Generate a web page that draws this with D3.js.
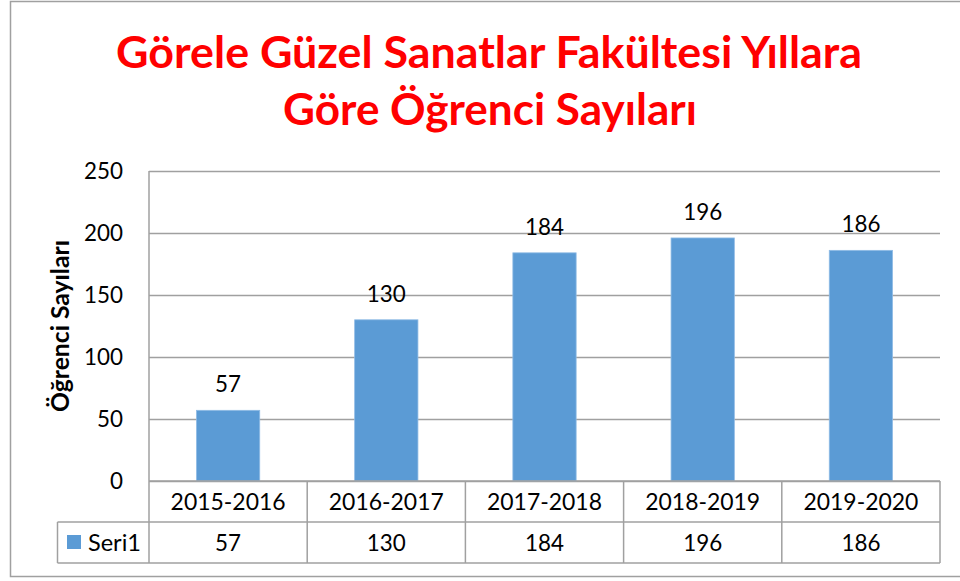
<!DOCTYPE html>
<html>
<head>
<meta charset="utf-8">
<script src="https://cdn.jsdelivr.net/npm/d3@7"></script>
<style>
  body { margin: 0; background: #fff; }
  svg { display: block; font-family: Lato, "Noto Sans", sans-serif; }
</style>
</head>
<body>
<div id="chart"></div>
<script>
"use strict";

// chart data
var categories = ["2015-2016", "2016-2017", "2017-2018", "2018-2019", "2019-2020"];
var seriesName = "Seri1";
var values = [57, 130, 184, 196, 186];
var yTicks = [0, 50, 100, 150, 200, 250];
var titleLines = ["Görele Güzel Sanatlar Fakültesi Yıllara", "Göre Öğrenci Sayıları"];
var yTitle = "Öğrenci Sayıları";

var width = 960, height = 581;
var plot = { left: 149, right: 940, top: 171, bottom: 481 };
var rowH = 41;
var legendLeft = 57.5;
var lineColor = "#a0a0a0";
var barColor = "#5b9bd5";

var svg = d3.select("#chart")
  .append("svg")
  .attr("width", width)
  .attr("height", height);

// shrink/grow a text until it is about `w` pixels wide
function fitWidth(sel, w) {
  sel.each(function() {
    var fs = parseFloat(d3.select(this).attr("font-size"));
    var cur = this.getComputedTextLength();
    if (cur > 0) d3.select(this).attr("font-size", fs * w / cur);
  });
}

// font size at which `str` measures `w` pixels
function sizeFor(str, w, weight) {
  var t = svg.append("text").attr("font-size", 20).attr("font-weight", weight || "normal").text(str);
  var len = t.node().getComputedTextLength();
  t.remove();
  return 20 * w / len;
}

var numSize = sizeFor("130", 39);

// outer chart border
svg.append("rect")
   .attr("x", 10.5).attr("y", 1.5)
   .attr("width", 1000).attr("height", 575)
   .attr("fill", "none")
   .attr("stroke", lineColor)
   .attr("stroke-width", 1.5);

// title
var title = svg.append("g")
  .attr("fill", "#ff0000")
  .attr("font-weight", "bold")
  .attr("text-anchor", "middle");
title.append("text").attr("x", 489).attr("y", 68).attr("font-size", 40)
     .text(titleLines[0]).call(fitWidth, 746);
title.append("text").attr("x", 490).attr("y", 125).attr("font-size", 40)
     .text(titleLines[1]).call(fitWidth, 414);

// scales
var x = d3.scaleBand()
  .domain(categories)
  .range([plot.left, plot.right])
  .paddingInner(0.6)
  .paddingOuter(0.3);

var y = d3.scaleLinear()
  .domain([0, 250])
  .range([plot.bottom, plot.top]);

// gridlines
svg.append("g")
   .selectAll("line")
   .data(yTicks)
   .enter()
   .append("line")
   .attr("x1", plot.left).attr("x2", plot.right)
   .attr("y1", function(d) { return Math.round(y(d)) + 0.5; })
   .attr("y2", function(d) { return Math.round(y(d)) + 0.5; })
   .attr("stroke", lineColor)
   .attr("stroke-width", 1.5);

// y axis, labels only
var yAxis = d3.axisLeft(y).tickValues(yTicks).tickSize(0).tickPadding(26);
var yG = svg.append("g")
  .attr("transform", "translate(" + plot.left + ",0)")
  .call(yAxis);
yG.select(".domain").remove();
yG.selectAll("text")
  .attr("font-family", "Lato, 'Noto Sans', sans-serif")
  .attr("font-size", numSize)
  .attr("fill", "#000");

svg.append("text")
   .attr("transform", "translate(69,326) rotate(-90)")
   .attr("text-anchor", "middle")
   .attr("font-weight", "bold")
   .attr("font-size", 20)
   .text(yTitle)
   .call(fitWidth, 172);

// bars
svg.append("g")
   .selectAll("rect")
   .data(values)
   .enter()
   .append("rect")
   .attr("x", function(d, i) { return x(categories[i]); })
   .attr("y", function(d) { return y(d); })
   .attr("width", x.bandwidth())
   .attr("height", function(d) { return y(0) - y(d); })
   .attr("fill", barColor)
   .attr("stroke", "#8fbbe5")
   .attr("stroke-width", 0.8);

// value labels
svg.append("g")
   .selectAll("text")
   .data(values)
   .enter()
   .append("text")
   .attr("x", function(d, i) { return x(categories[i]) + x.bandwidth() / 2; })
   .attr("y", function(d) { return y(d) - 18; })
   .attr("text-anchor", "middle")
   .attr("font-size", numSize)
   .text(function(d) { return d; });

// data table
var tbl = svg.append("g")
  .attr("stroke", lineColor)
  .attr("stroke-width", 1.5);
var step = x.step();
var colEdges = d3.range(categories.length + 1).map(function(i) {
  return plot.left + i * step;
});

[plot.bottom, plot.bottom + rowH, plot.bottom + 2 * rowH].forEach(function(yy, i) {
  tbl.append("line")
     .attr("x1", i === 0 ? plot.left : legendLeft).attr("x2", plot.right)
     .attr("y1", yy).attr("y2", yy);
});
colEdges.forEach(function(xx, i) {
  tbl.append("line")
     .attr("x1", xx).attr("x2", xx)
     .attr("y1", i === 0 ? plot.top : plot.bottom)
     .attr("y2", plot.bottom + 2 * rowH);
});
tbl.append("line")
   .attr("x1", legendLeft).attr("x2", legendLeft)
   .attr("y1", plot.bottom + rowH).attr("y2", plot.bottom + 2 * rowH);

// category row
svg.append("g")
   .selectAll("text")
   .data(categories)
   .enter()
   .append("text")
   .attr("x", function(d) { return x(d) + x.bandwidth() / 2; })
   .attr("y", plot.bottom + 29)
   .attr("text-anchor", "middle")
   .attr("font-size", 20)
   .text(function(d) { return d; })
   .call(fitWidth, 115);

// values row
svg.append("g")
   .selectAll("text")
   .data(values)
   .enter()
   .append("text")
   .attr("x", function(d, i) { return x(categories[i]) + x.bandwidth() / 2; })
   .attr("y", plot.bottom + 70)
   .attr("text-anchor", "middle")
   .attr("font-size", numSize)
   .text(function(d) { return d; });

// legend key in table
svg.append("rect")
   .attr("x", 67).attr("y", 535)
   .attr("width", 14).attr("height", 14)
   .attr("fill", barColor);
svg.append("text")
   .attr("x", 88).attr("y", plot.bottom + 70)
   .attr("font-size", 20)
   .text(seriesName)
   .call(fitWidth, 53);
</script>
</body>
</html>
